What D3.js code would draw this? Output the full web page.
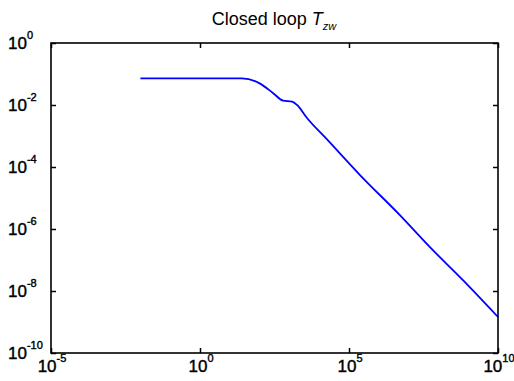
<!DOCTYPE html>
<html>
<head>
<meta charset="utf-8">
<script src="https://cdn.jsdelivr.net/npm/d3@7"></script>
<style>
  body { margin: 0; background: #fff; }
  svg { display: block; font-family: "Liberation Sans", Arial, sans-serif; }
</style>
</head>
<body>
<div id="chart"></div>
<script>
const width = 514,
    height = 381

// frequency (rad/s) and closed loop gain |T_zw|
const freq = [0.01, 25, 100, 280, 620, 1230, 1820, 3900, 18000, 234000, 5.1e6, 5.2e7, 6.8e8, 1e10]
const gain = [0.072, 0.072, 0.050, 0.0245, 0.0138, 0.0129, 0.0100, 0.0038, 7.9e-4, 5.5e-5, 2.8e-6, 2.6e-7, 2.2e-8, 1.45e-9]

const xTicks = [1e-5, 1, 1e5, 1e10]
const yTicks = [1, 1e-2, 1e-4, 1e-6, 1e-8, 1e-10]

const m = { left: 51, right: 498, top: 43, bottom: 353 }

var svg = d3.select("#chart")
    .append("svg")
    .attr("width", width)
    .attr("height", height)

var x = d3.scaleLog().domain([1e-5, 1e10]).range([m.left, m.right])
var y = d3.scaleLog().domain([1e-10, 1]).range([m.bottom, m.top])

const exp10 = v => Math.round(Math.log10(v))

// tick marks (inward, mirrored on all sides)
function ticks(g, axis) {
    g.call(axis)
    g.select(".domain").remove()
    g.selectAll(".tick line").attr("stroke", "#000").attr("stroke-width", 1.5)
    g.selectAll(".tick text").remove()
}

svg.append("g").attr("transform", `translate(0,${m.bottom})`)
    .call(ticks, d3.axisBottom(x).tickValues(xTicks).tickSize(-5))
svg.append("g").attr("transform", `translate(0,${m.top})`)
    .call(ticks, d3.axisTop(x).tickValues(xTicks).tickSize(-5))
svg.append("g").attr("transform", `translate(${m.left},0)`)
    .call(ticks, d3.axisLeft(y).tickValues(yTicks).tickSize(-5))
svg.append("g").attr("transform", `translate(${m.right},0)`)
    .call(ticks, d3.axisRight(y).tickValues(yTicks).tickSize(-5))

// the curve
var line = d3.line()
    .x((d, i) => x(freq[i]))
    .y(d => y(d))
    .curve(d3.curveMonotoneX)

svg.append("path")
    .datum(gain)
    .attr("fill", "none")
    .attr("stroke", "#0000ff")
    .attr("stroke-width", 1.8)
    .attr("d", line)

// box
svg.append("rect")
    .attr("x", m.left)
    .attr("y", m.top)
    .attr("width", m.right - m.left)
    .attr("height", m.bottom - m.top)
    .attr("fill", "none")
    .attr("stroke", "#000")
    .attr("stroke-width", 1.6)

// tick labels, 10 with a superscript power
function powLabel(t, v) {
    t.append("tspan").text("10")
    t.append("tspan").attr("dy", -10).attr("font-size", 11).text(exp10(v))
}

svg.append("g").selectAll("text")
    .data(xTicks)
    .enter()
    .append("text")
    .attr("x", d => x(d) + 1)
    .attr("y", 372)
    .attr("text-anchor", "middle")
    .attr("font-size", 17)
    .attr("fill", "#000")
    .attr("stroke", "#000")
    .attr("stroke-width", 0.4)
    .each(function (d) { powLabel(d3.select(this), d) })

svg.append("g").selectAll("text")
    .data(yTicks)
    .enter()
    .append("text")
    .attr("x", 8)
    .attr("y", d => y(d) + 6)
    .attr("font-size", 17)
    .attr("fill", "#000")
    .attr("stroke", "#000")
    .attr("stroke-width", 0.4)
    .each(function (d) { powLabel(d3.select(this), d) })

// title
var title = svg.append("text")
    .attr("x", 274)
    .attr("y", 25)
    .attr("text-anchor", "middle")
    .attr("font-size", 18)
    .attr("fill", "#000")
title.append("tspan").text("Closed loop ")
title.append("tspan").attr("font-style", "italic").text("T")
title.append("tspan").attr("font-style", "italic").attr("font-size", 11).attr("dy", 5).text("zw")
</script>
</body>
</html>
